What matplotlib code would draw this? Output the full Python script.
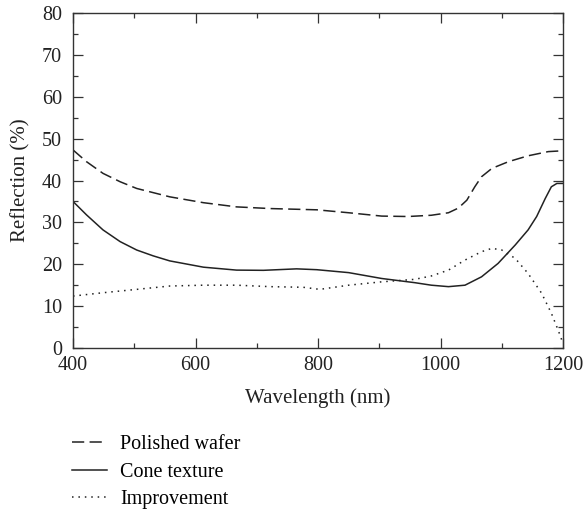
import matplotlib
matplotlib.use("Agg")
import matplotlib.pyplot as plt
from matplotlib.ticker import MultipleLocator

plt.rcParams['font.family'] = ['Liberation Serif', 'DejaVu Serif']

wl_polished = [400, 422, 449, 477, 504, 558, 613, 667, 722, 798, 850, 904, 947, 985,
               1013, 1029, 1043, 1056, 1067, 1084, 1111, 1143, 1176, 1200]
polished = [47.3, 44.5, 41.7, 39.7, 38.1, 36.1, 34.7, 33.7, 33.3, 33.0, 32.3, 31.5, 31.4, 31.7,
            32.3, 33.4, 35.3, 38.5, 40.9, 42.9, 44.5, 45.9, 46.9, 47.1]

wl_cone = [400, 422, 449, 477, 504, 531, 558, 613, 667, 711, 765, 798, 850, 904, 958, 985,
           1013, 1040, 1067, 1094, 1122, 1143, 1157, 1171, 1181, 1190, 1200]
cone = [35.0, 31.8, 28.2, 25.4, 23.4, 22.0, 20.8, 19.3, 18.6, 18.55, 18.9, 18.7, 18.0, 16.6, 15.6, 15.0,
        14.65, 15.0, 17.0, 20.2, 24.6, 28.2, 31.4, 35.7, 38.5, 39.3, 39.3]

wl_impr = [400, 449, 504, 558, 613, 667, 722, 776, 803, 850, 904, 958, 985,
           1013, 1040, 1067, 1084, 1100, 1122, 1143, 1165, 1181, 1192, 1198]
improvement = [12.4, 13.2, 14.0, 14.8, 15.0, 15.0, 14.65, 14.5, 14.0, 15.0, 15.8, 16.4, 17.2,
               18.6, 21.0, 23.0, 23.8, 23.4, 21.4, 17.8, 13.1, 8.3, 4.3, 1.9]

labels = ["Polished wafer", "Cone texture", "Improvement"]

fig = plt.figure(figsize=(5.87, 5.09), dpi=100)
ax = fig.add_axes([73/587, 1-348/509, 490/587, 335/509])

ink = '#222222'
l1, = ax.plot(wl_polished, polished, color=ink, lw=1.1, linestyle=(0, (8, 3.5)))
l2, = ax.plot(wl_cone, cone, color=ink, lw=1.1, linestyle='-')
l3, = ax.plot(wl_impr, improvement, color=ink, lw=1.1, linestyle=(0, (1, 3.2)))

ax.set_xlim(400, 1200)
ax.set_ylim(0, 80)
ax.xaxis.set_major_locator(MultipleLocator(200))
ax.xaxis.set_minor_locator(MultipleLocator(100))
ax.yaxis.set_major_locator(MultipleLocator(10))
ax.yaxis.set_minor_locator(MultipleLocator(5))
ax.tick_params(which='both', direction='in', top=True, right=True, labelsize=14.5,
               colors='#333333', labelcolor=ink, width=0.9)
ax.tick_params(which='major', length=7.2)
ax.tick_params(which='minor', length=3.6)
ax.tick_params(axis='x', which='major', pad=6)
ax.tick_params(axis='y', which='major', pad=8)
for s in ax.spines.values():
    s.set_linewidth(1.0)
    s.set_color('#333333')
ax.set_xlabel("Wavelength (nm)", fontsize=15, color=ink, labelpad=9)
ax.set_ylabel("Reflection (%)", fontsize=15, color=ink, labelpad=8)

fig.legend([l1, l2, l3], labels, loc='upper left', bbox_to_anchor=(72/587, 1-435/509),
           frameon=False, fontsize=14.5, handlelength=1.75, handletextpad=0.65,
           labelspacing=0.42, borderaxespad=0, borderpad=0)

fig.savefig("out.png", dpi=100)
